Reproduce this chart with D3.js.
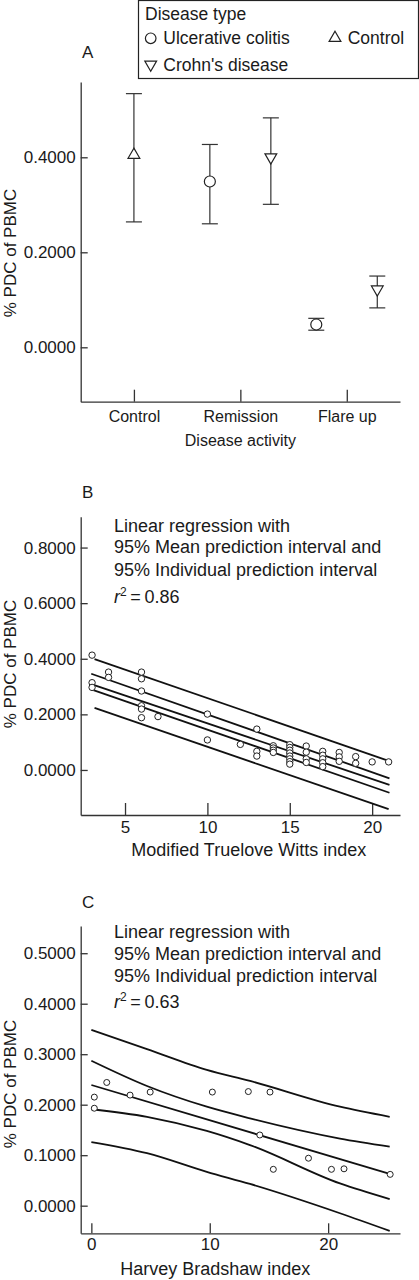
<!DOCTYPE html>
<html><head><meta charset="utf-8">
<script src="https://cdn.jsdelivr.net/npm/d3@7"></script>
<style>
html,body{margin:0;padding:0;background:#fff;}
svg{display:block;}
text{font-family:"Liberation Sans",Arial,sans-serif;fill:#1a1a1a;}
</style></head>
<body>
<svg id="chart" width="419" height="1280"></svg>
<script>
// ---------- Panel A data ----------
const aCategories = ["Control", "Remission", "Flare up"];
const aTypes = ["Ulcerative colitis", "Control", "Crohn's disease"];
const aGroup = ["Control", "Remission", "Remission", "Flare up", "Flare up"];
const aType  = ["Control", "Ulcerative colitis", "Crohn's disease", "Ulcerative colitis", "Crohn's disease"];
const aMean  = [0.405, 0.349, 0.400, 0.048, 0.122];
const aLow   = [0.264, 0.260, 0.301, 0.036, 0.083];
const aHigh  = [0.534, 0.427, 0.483, 0.061, 0.150];
const aTicks = [0, 0.2, 0.4];

// ---------- Panel B data ----------
const bX = [3,3,3, 4,4, 6,6,6,6,6,6, 7, 10,10, 12, 13,13,13,
            14,14,14,14, 15,15,15,15,15,15,15,15, 16,16,16,16,
            17,17,17,17,17, 18,18,18, 19,19, 20, 21];
const bY = [0.413,0.314,0.297, 0.352,0.333, 0.352,0.328,0.284,0.231,0.219,0.188, 0.192,
            0.201,0.108, 0.092, 0.147,0.067,0.050,
            0.087,0.079,0.071,0.063, 0.091,0.081,0.071,0.061,0.050,0.040,0.030,0.021,
            0.086,0.064,0.040,0.027, 0.067,0.053,0.040,0.026,0.012,
            0.063,0.047,0.031, 0.048,0.024, 0.029,0.029];
const bTicksY = [0, 0.2, 0.4, 0.6, 0.8];
const bTicksX = [5, 10, 15, 20];
const bFitX = [2.95, 21.05];
const bFit = [0.309, -0.054];
const bMeanUpper = [0.346, -0.030];
const bMeanLower = [0.290, -0.082];
const bIndX = [3.15, 21.0];
const bIndUpper = [0.399, 0.033];
const bIndLower = [0.223, -0.141];

// ---------- Panel C data ----------
const cX = [0.25,0.25,1.3,3.27,4.97,10.22,13.26,15.09,14.23,15.37,18.34,20.28,21.34,25.24];
const cY = [0.215,0.193,0.244,0.219,0.225,0.225,0.226,0.225,0.140,0.072,0.094,0.072,0.073,0.062];
const cTicksY = [0, 0.1, 0.2, 0.3, 0.4, 0.5];
const cTicksX = [0, 10, 20];
const cBandX = [0, 4.7, 9.75, 13.4, 21.0, 25.2];
const cIndUpper  = [0.348, 0.310, 0.269, 0.247, 0.196, 0.176];
const cMeanUpper = [0.287, 0.237, 0.196, 0.173, 0.133, 0.117];
const cMeanLower = [0.191, 0.176, 0.148, 0.120, 0.044, 0.013];
const cIndLower  = [0.126, 0.104, 0.067, 0.043, -0.015, -0.050];
const cFitX = [0, 25.2];
const cFit = [0.239, 0.063];

const annot = ["Linear regression with", "95% Mean prediction interval and", "95% Individual prediction interval"];

// ---------- drawing ----------
const svg = d3.select("#chart");
const AX = "#333";
const fmt = d3.format(".4f");

function styleAxis(g) {
  g.selectAll("path.domain").attr("stroke", AX).attr("stroke-width", 1.3);
  g.selectAll(".tick line").attr("stroke", AX).attr("stroke-width", 1.3);
  g.selectAll(".tick text").attr("fill", "#1a1a1a").attr("font-family", '"Liberation Sans",Arial,sans-serif');
}

function yAxis(y, ticks, x0, size) {
  const g = svg.append("g").attr("transform", `translate(${x0},0)`)
    .call(d3.axisLeft(y).tickValues(ticks).tickFormat(fmt).tickSizeInner(-7).tickSizeOuter(0).tickPadding(5));
  g.selectAll(".tick text").attr("font-size", size);
  styleAxis(g);
  return g;
}
function xAxis(x, ticks, y0, size, pad, tickLen) {
  const ax = d3.axisBottom(x).tickSizeInner(-tickLen).tickSizeOuter(0).tickPadding(pad);
  if (ticks) ax.tickValues(ticks);
  const g = svg.append("g").attr("transform", `translate(0,${y0})`).call(ax);
  g.selectAll(".tick text").attr("font-size", size);
  styleAxis(g);
  return g;
}
function yTitle(cy) {
  svg.append("text").attr("transform", `translate(15.5,${cy}) rotate(-90)`)
    .attr("text-anchor", "middle").attr("font-size", 17).text("% PDC of PBMC");
}
function letter(t, y) {
  svg.append("text").attr("x", 82).attr("y", y).attr("font-size", 17).text(t);
}
function annotation(x, ys, r2) {
  annot.forEach((t, i) => svg.append("text").attr("x", x).attr("y", ys[i]).attr("font-size", 18).text(t));
  const t = svg.append("text").attr("x", x).attr("y", ys[3]).attr("font-size", 18);
  t.append("tspan").attr("font-style", "italic").text("r");
  t.append("tspan").attr("font-size", 12).attr("dy", -7).text("2");
  t.append("tspan").attr("dy", 7).text("\u2009=\u2009" + r2);
}

const triUp = d3.symbol(d3.symbolTriangle, 60)();
function marker(g, type, x, y, r) {
  if (type === "Ulcerative colitis") {
    g.append("circle").attr("cx", x).attr("cy", y).attr("r", r)
      .attr("fill", "#fff").attr("stroke", "#222").attr("stroke-width", 1.2);
  } else {
    const rot = type === "Crohn's disease" ? 180 : 0;
    g.append("path").attr("d", triUp)
      .attr("transform", `translate(${x},${y}) rotate(${rot})`)
      .attr("fill", "#fff").attr("stroke", "#222").attr("stroke-width", 1.2);
  }
}

// ===== Panel A =====
{
  const x = d3.scalePoint().domain(aCategories).range([80.7, 400]).padding(0.5);
  const off = d3.scalePoint().domain(aTypes).range([-30.5, 30.5]);
  const y = d3.scaleLinear().domain([-0.1145, 0.5585]).range([401.7, 82]);
  yAxis(y, aTicks, 80.7, 17);
  xAxis(x, null, 401.7, 16, 9, 12);
  yTitle(253);
  letter("A", 58.3);
  svg.append("text").attr("x", x("Remission")).attr("y", 446).attr("text-anchor", "middle")
    .attr("font-size", 16).text("Disease activity");

  const g = svg.append("g");
  aMean.forEach((m, i) => {
    const cx = x(aGroup[i]) + off(aType[i]);
    const cap = 8;
    g.append("line").attr("x1", cx).attr("x2", cx).attr("y1", y(aLow[i])).attr("y2", y(aHigh[i]))
      .attr("stroke", "#333").attr("stroke-width", 1.2);
    [aLow[i], aHigh[i]].forEach(v => g.append("line").attr("x1", cx - cap).attr("x2", cx + cap)
      .attr("y1", y(v)).attr("y2", y(v)).attr("stroke", "#333").attr("stroke-width", 1.2));
    marker(g, aType[i], cx, y(m), 5.5);
  });

  // legend
  const lg = svg.append("g");
  lg.append("rect").attr("x", 138.5).attr("y", 0.5).attr("width", 280).attr("height", 78)
    .attr("fill", "#fff").attr("stroke", "#222").attr("stroke-width", 1.2);
  lg.append("text").attr("x", 145).attr("y", 20).attr("font-size", 17.5).text("Disease type");
  const items = [["Ulcerative colitis", 150.7, 38.3, 163.3, 44],
                 ["Control", 335, 38, 347.7, 44],
                 ["Crohn's disease", 150.7, 64.5, 163.3, 70.7]];
  items.forEach(([name, mx, my, tx, ty]) => {
    marker(lg, name, mx, my, 5.3);
    lg.append("text").attr("x", tx).attr("y", ty).attr("font-size", 17.5).text(name);
  });
}

// ===== Panel B =====
{
  const x = d3.scaleLinear().domain([2.31, 21.69]).range([80.7, 400]);
  const y = d3.scaleLinear().domain([-0.162, 0.911]).range([815, 516.7]);
  yAxis(y, bTicksY, 80.7, 17);
  xAxis(x, bTicksX, 815, 17, 6, 12);
  yTitle(664);
  letter("B", 498.3);
  svg.append("text").attr("x", 248.7).attr("y", 856).attr("text-anchor", "middle")
    .attr("font-size", 18).text("Modified Truelove Witts index");
  annotation(114, [531.7, 553.3, 576, 602.7], "0.86");

  const line = d3.line().x(d => x(d[0])).y(d => y(d[1]));
  const lines = [
    d3.zip(bIndX, bIndUpper), d3.zip(bFitX, bMeanUpper), d3.zip(bFitX, bFit),
    d3.zip(bFitX, bMeanLower), d3.zip(bIndX, bIndLower)
  ];
  svg.append("g").selectAll("path").data(lines).join("path")
    .attr("d", line).attr("fill", "none").attr("stroke", "#111").attr("stroke-width", 1.8);
  svg.append("g").selectAll("circle").data(d3.zip(bX, bY)).join("circle")
    .attr("cx", d => x(d[0])).attr("cy", d => y(d[1])).attr("r", 3.2)
    .attr("fill", "#fff").attr("stroke", "#222").attr("stroke-width", 1);
}

// ===== Panel C =====
{
  const x = d3.scaleLinear().domain([-0.9, 26.07]).range([80.7, 400]);
  const y = d3.scaleLinear().domain([-0.0547, 0.5539]).range([1233.3, 926]);
  yAxis(y, cTicksY, 80.7, 17);
  xAxis(x, cTicksX, 1233.3, 17, 5, 10);
  yTitle(1084);
  letter("C", 908.3);
  svg.append("text").attr("x", 215.3).attr("y", 1275).attr("text-anchor", "middle")
    .attr("font-size", 18).text("Harvey Bradshaw index");
  annotation(114, [938.3, 960, 982.3, 1008.3], "0.63");

  const line = d3.line().x(d => x(d[0])).y(d => y(d[1])).curve(d3.curveMonotoneX);
  const lines = [
    d3.zip(cBandX, cIndUpper), d3.zip(cBandX, cMeanUpper), d3.zip(cFitX, cFit),
    d3.zip(cBandX, cMeanLower), d3.zip(cBandX, cIndLower)
  ];
  svg.append("g").selectAll("path").data(lines).join("path")
    .attr("d", line).attr("fill", "none").attr("stroke", "#111").attr("stroke-width", 1.8);
  svg.append("g").selectAll("circle").data(d3.zip(cX, cY)).join("circle")
    .attr("cx", d => x(d[0])).attr("cy", d => y(d[1])).attr("r", 3)
    .attr("fill", "#fff").attr("stroke", "#222").attr("stroke-width", 1);
}
</script>
</body></html>
